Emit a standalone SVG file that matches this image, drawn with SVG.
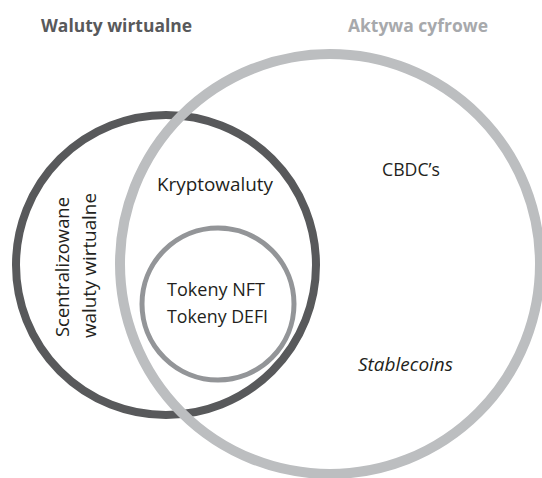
<svg xmlns="http://www.w3.org/2000/svg" width="542" height="478" viewBox="0 0 542 478">
<style>
text{font-family:"Open Sans","Noto Sans","Liberation Sans",sans-serif;fill:#231f20;font-size:17.5px}
.h{font-weight:bold;font-size:18px}
.ring{fill:none}
</style>
<rect width="542" height="478" fill="#fff"/>
<g id="waluty-wirtualne">
<circle class="ring" cx="166" cy="265" r="150" stroke="#58595b" stroke-width="8"/>
<text class="h" x="41" y="32" style="fill:#58595b" textLength="151" lengthAdjust="spacingAndGlyphs">Waluty wirtualne</text>
</g>
<g id="aktywa-cyfrowe">
<circle class="ring" cx="330" cy="264" r="210" stroke="#bcbec0" stroke-width="10"/>
<text class="h" x="348" y="32" style="fill:#a7a9ac" textLength="140" lengthAdjust="spacingAndGlyphs">Aktywa cyfrowe</text>
</g>
<g id="tokeny">
<circle class="ring" cx="218" cy="304" r="76" stroke="#939598" stroke-width="5"/>
<text x="167" y="296" textLength="98" lengthAdjust="spacingAndGlyphs">Tokeny NFT</text>
<text x="167" y="323" textLength="101" lengthAdjust="spacingAndGlyphs">Tokeny DEFI</text>
</g>
<g id="kryptowaluty">
<text x="157" y="191" textLength="116" lengthAdjust="spacingAndGlyphs">Kryptowaluty</text>
</g>
<g id="scentralizowane">
<text transform="translate(69 337) rotate(-90)" x="0" y="0" textLength="140" lengthAdjust="spacingAndGlyphs">Scentralizowane</text>
<text transform="translate(96 338) rotate(-90)" x="0" y="0" textLength="145" lengthAdjust="spacingAndGlyphs">waluty wirtualne</text>
</g>
<g id="cbdc">
<text x="382" y="176" textLength="58" lengthAdjust="spacingAndGlyphs">CBDC’s</text>
</g>
<g id="stablecoins">
<text x="358" y="371" font-style="italic" textLength="95" lengthAdjust="spacingAndGlyphs">Stablecoins</text>
</g>
<g id="connectors"/>
</svg>
